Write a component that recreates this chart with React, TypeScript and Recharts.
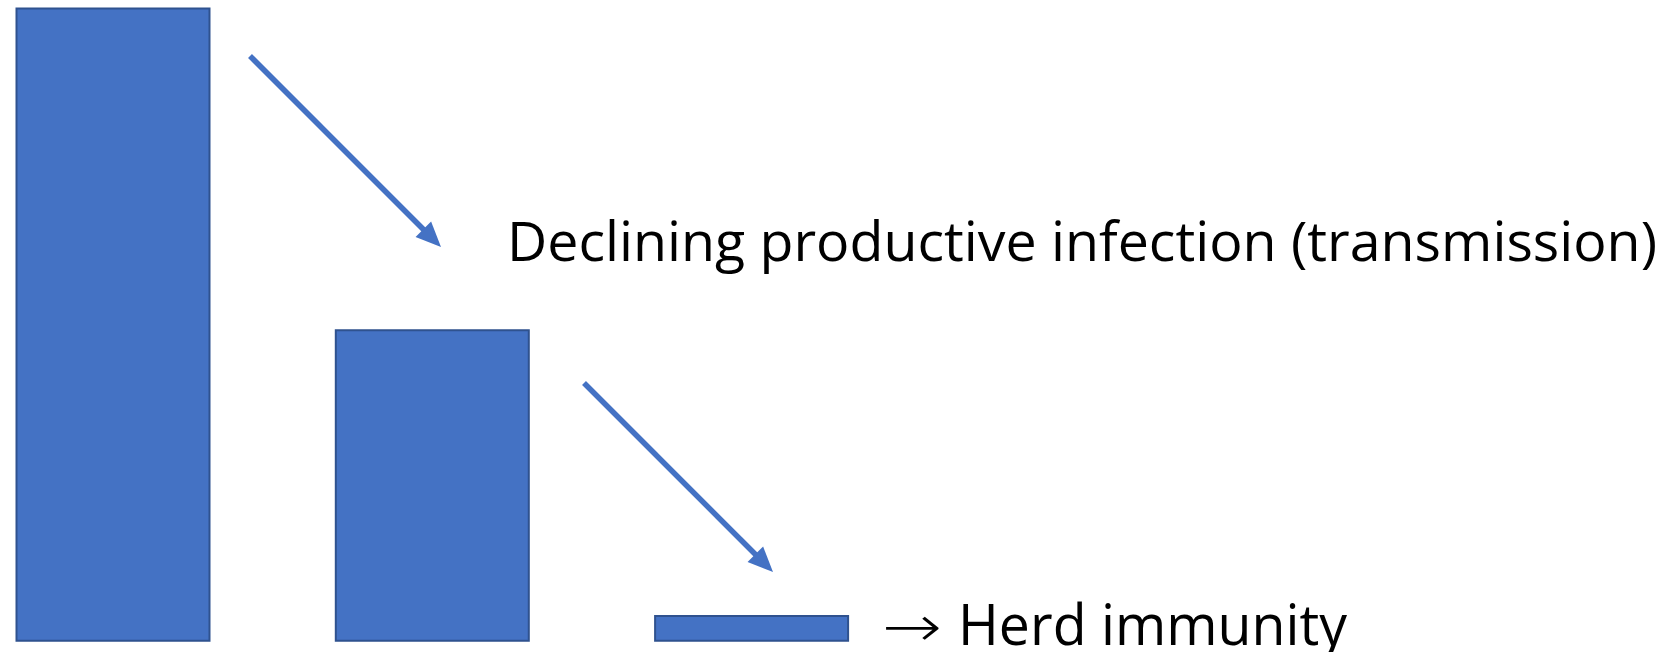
import React from "react";
import { Bar, BarChart, Customized, XAxis, YAxis } from "recharts";

// share of productive infections at each stage (relative, first = 100)
const stages = ["Early epidemic", "Declining transmission", "Herd immunity"];
const infections = [100, 49.1, 3.9];

const arrowColor = "#4472C4";
const font = "'Open Sans', 'Noto Sans', sans-serif";

const data = stages.map((stage, i) => ({ stage, infections: infections[i] }));

function Arrow({ x1, y1, x2, y2 }: { x1: number; y1: number; x2: number; y2: number }) {
  const len = Math.hypot(x2 - x1, y2 - y1);
  const ux = (x2 - x1) / len;
  const uy = (y2 - y1) / len;
  const headLen = 25;
  const headHalf = 11;
  const bx = x2 - ux * headLen;
  const by = y2 - uy * headLen;
  const pts = [
    [x2, y2],
    [bx - uy * headHalf, by + ux * headHalf],
    [bx + uy * headHalf, by - ux * headHalf],
  ]
    .map((p) => p.join(","))
    .join(" ");
  return (
    <g>
      <line x1={x1} y1={y1} x2={bx + ux * 2} y2={by + uy * 2} stroke={arrowColor} strokeWidth={5.5} />
      <polygon points={pts} fill={arrowColor} />
    </g>
  );
}

function Annotations() {
  return (
    <g>
      <Arrow x1={250} y1={56} x2={441} y2={247} />
      <Arrow x1={584} y1={383} x2={773} y2={572} />
      <text
        x={507}
        y={261}
        fontSize={55}
        fontFamily={font}
        fill="#000"
        textLength={1150}
        lengthAdjust="spacingAndGlyphs"
      >
        Declining productive infection (transmission)
      </text>
      <text
        x={882}
        y={646}
        fontSize={57}
        fontWeight={200}
        fontFamily="'DejaVu Sans', sans-serif"
        fill="#000"
        textLength={60}
        lengthAdjust="spacingAndGlyphs"
      >
        →
      </text>
      <text
        x={958}
        y={645}
        fontSize={56}
        fontFamily={font}
        fill="#000"
        textLength={389}
        lengthAdjust="spacingAndGlyphs"
      >
        Herd immunity
      </text>
    </g>
  );
}

export default function App() {
  return (
    <div style={{ position: "absolute", left: 0, top: 0, background: "#fff" }}>
      <BarChart
        width={1666}
        height={652}
        data={data}
        margin={{ top: 8.5, right: 754.6, bottom: 11.3, left: -46.5 }}
      >
        <XAxis dataKey="stage" hide />
        <YAxis hide domain={[0, 100]} />
        <Bar
          dataKey="infections"
          fill="#4472C4"
          stroke="#2F528F"
          strokeWidth={2}
          barSize={193}
          isAnimationActive={false}
        />
        <Customized component={Annotations} />
      </BarChart>
    </div>
  );
}
